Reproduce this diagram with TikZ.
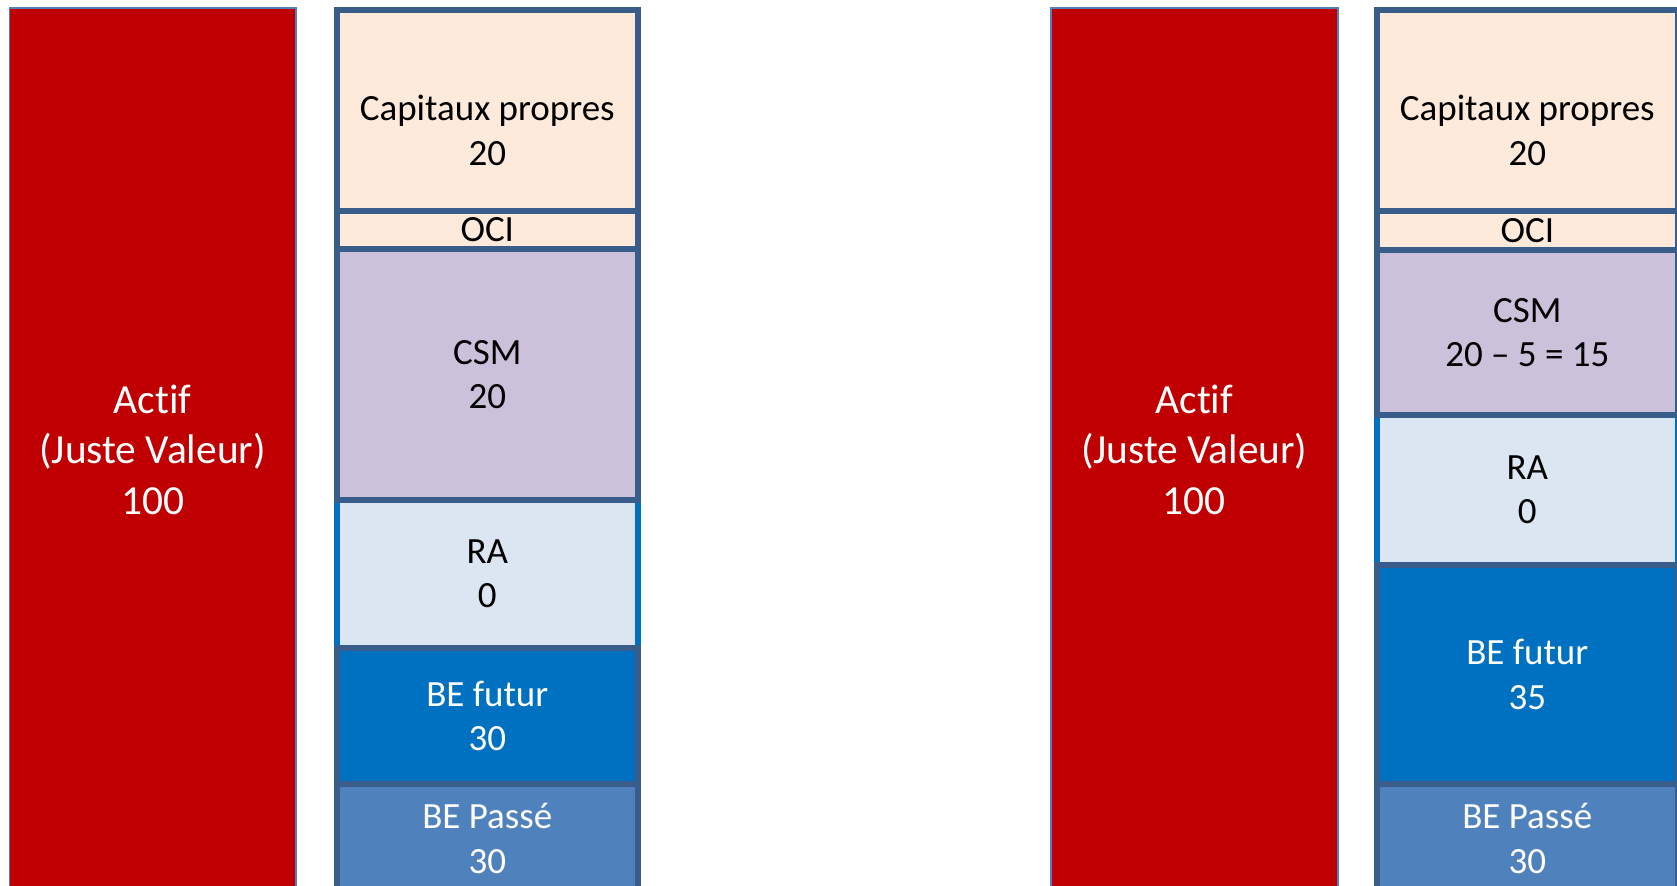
\documentclass[tikz,border=0pt]{standalone}
\usepackage{fontspec}
\setmainfont{Carlito}[RawFeature={-liga;-clig;-calt}]
\definecolor{stackline}{HTML}{385D8A}
\definecolor{actifred}{HTML}{C00000}
\definecolor{actifline}{HTML}{4F81BD}
\definecolor{capfill}{HTML}{FDEADA}
\definecolor{csmfill}{HTML}{CCC1DA}
\definecolor{rafill}{HTML}{DCE6F2}
\definecolor{raline}{HTML}{0070C0}
\definecolor{befut}{HTML}{0070C0}
\definecolor{bepas}{HTML}{4F81BD}
\begin{document}
\begin{tikzpicture}[x=0.5pt,y=-0.5pt,
  sz/.style 2 args={minimum width=#1*0.5pt, minimum height=#2*0.5pt},
  blk/.style={rectangle, anchor=north west, inner sep=0pt, draw=stackline,
    line width=2.8pt, align=center, font=\fontsize{18.5}{22.3}\selectfont},
  txt/.style={inner sep=0pt, align=center, font=\fontsize{18.5}{22.3}\selectfont},
  actif/.style={rectangle, anchor=north west, inner sep=0pt, fill=actifred,
    draw=actifline, line width=0.8pt, text=white, align=center,
    font=\fontsize{20.7}{25.3}\selectfont},
]
\useasboundingbox (0,0) rectangle (1677,886);
\clip (0,0) rectangle (1677,886);

% ---- first balance sheet ----
\node[actif, sz={286.5}{883}] (actifL) at (8.5,7.5) {Actif\\(Juste Valeur)\\100};
\node[blk, fill=capfill, sz={301}{200.5}] (capL) at (334,7.5) {};
\node[txt] (capLtxt) at ([yshift=-10pt]capL.center) {Capitaux propres\\20};
\node[blk, fill=capfill, sz={301}{38.5}] (ociL) at (334,208) {OCI};
\node[blk, fill=rafill, draw=raline, sz={301}{148}] (raL) at (334,497) {RA\\0};
\node[blk, fill=csmfill, sz={301}{250.5}] (csmL) at (334,246.5) {CSM\\20};
\node[blk, fill=befut, text=white, sz={301}{136}] (befL) at (334,645) {BE futur\\30};
\node[blk, fill=bepas, text=white, sz={301}{109}] (bepL) at (334,781) {BE Passé\\30};

% ---- second balance sheet ----
\node[actif, sz={287}{883}] (actifR) at (1050,7.5) {Actif\\(Juste Valeur)\\100};
\node[blk, fill=capfill, sz={301}{200.5}] (capR) at (1374,7.5) {};
\node[txt] (capRtxt) at ([yshift=-10pt]capR.center) {Capitaux propres\\20};
\node[blk, fill=capfill, sz={301}{39.5}] (ociR) at (1374,208) {OCI};
\node[blk, fill=rafill, draw=raline, sz={301}{150}] (raR) at (1374,412) {RA\\0};
\node[blk, fill=csmfill, sz={301}{164.5}] (csmR) at (1374,247.5) {CSM\\20 – 5 = 15};
\node[blk, fill=befut, text=white, sz={301}{219}] (befR) at (1374,562) {BE futur\\35};
\node[blk, fill=bepas, text=white, sz={301}{109}] (bepR) at (1374,781) {BE Passé\\30};
\end{tikzpicture}
\end{document}
